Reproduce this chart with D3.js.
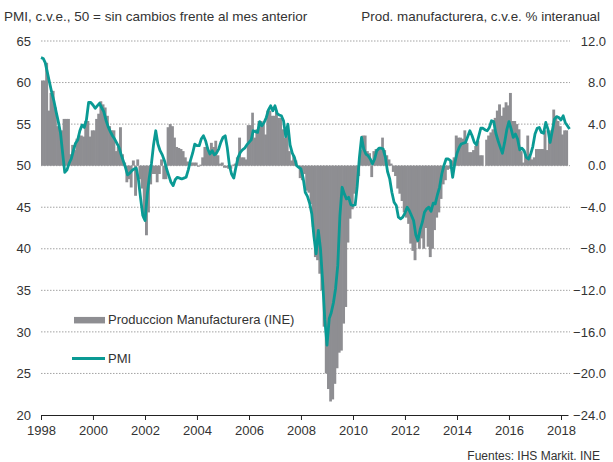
<!DOCTYPE html>
<html>
<head>
<meta charset="utf-8">
<script src="https://cdn.jsdelivr.net/npm/d3@7"></script>
<style>
  body { margin: 0; background: #fff; }
  text { font-family: "Liberation Sans", Arial, sans-serif; fill: #333; }
</style>
</head>
<body>
<div id="chart"></div>
<script>
// PMI manufacturero, mensual desde ene-1998
let pmi = [
  63.0, 62.9, 62.4, 61.2, 60.0, 58.8, 57.8, 56.5, 55.3, 54.0, 51.5, 49.2, // 1998
  49.5, 50.3, 50.8, 51.8, 52.7, 53.1, 54.2, 54.9, 54.6, 55.5, 57.6, 57.6, // 1999
  57.3, 56.9, 57.2, 57.5, 57.0, 56.5, 55.5, 54.7, 54.1, 53.6, 53.2, 52.7, // 2000
  52.2, 51.3, 50.6, 49.8, 48.9, 49.1, 49.4, 49.6, 49.7, 48.3, 46.0, 44.0, // 2001
  43.4, 46.5, 48.5, 50.2, 52.5, 54.2, 52.6, 51.8, 51.3, 50.6, 49.6, 48.8, // 2002
  48.0, 47.6, 48.3, 48.6, 48.5, 48.4, 48.5, 48.6, 49.5, 50.6, 51.5, 52.6, // 2003
  52.4, 52.4, 53.2, 53.6, 53.0, 52.0, 51.4, 51.8, 51.3, 51.5, 52.0, 52.8, // 2004
  53.4, 53.6, 52.2, 50.0, 49.0, 48.5, 49.8, 51.0, 51.6, 51.9, 52.1, 52.5, // 2005
  52.8, 53.1, 54.2, 54.1, 54.0, 55.3, 54.8, 55.2, 55.8, 56.7, 57.2, 56.6, // 2006
  57.2, 56.3, 56.1, 56.0, 55.4, 53.5, 55.0, 52.5, 51.5, 51.0, 50.0, 49.8, // 2007
  49.6, 48.5, 46.8, 46.3, 45.5, 44.2, 41.5, 39.4, 42.2, 40.0, 36.0, 31.5, // 2008
  28.4, 31.6, 32.3, 33.5, 35.2, 38.0, 44.0, 47.4, 46.6, 46.0, 46.2, 45.3, // 2009
  45.2, 45.3, 47.5, 51.0, 53.4, 52.0, 51.4, 51.2, 50.8, 50.2, 50.8, 51.8, // 2010
  52.1, 52.1, 52.0, 51.0, 49.3, 48.4, 46.8, 45.6, 45.2, 43.8, 43.6, 43.8, // 2011
  44.3, 45.0, 44.6, 44.0, 43.4, 41.7, 41.0, 42.3, 43.2, 44.4, 44.8, 45.0, // 2012
  44.5, 45.5, 45.4, 46.5, 47.4, 49.0, 50.0, 50.8, 50.8, 50.6, 48.6, 50.3, // 2013
  51.5, 52.2, 52.6, 52.7, 52.8, 53.5, 54.2, 53.6, 52.8, 52.5, 53.5, 54.5, // 2014
  54.5, 54.3, 54.2, 54.6, 55.4, 55.3, 53.9, 53.0, 52.2, 51.5, 52.8, 54.3, // 2015
  55.3, 54.4, 53.4, 53.8, 53.2, 51.9, 52.1, 51.8, 51.0, 50.8, 51.4, 52.3, // 2016
  53.8, 54.5, 54.6, 54.0, 53.9, 55.2, 54.4, 52.8, 54.2, 55.6, 55.9, 55.8, // 2017
  55.5, 56.0, 55.2, 54.8, 54.4                                            // 2018
];

// Produccion manufacturera (INE), % interanual
let prod = [
  8.2, 8.2, 9.9, 5.3, 7.0, 7.2, 5.6, 3.8, 3.4, 3.4, 4.5, 4.5,        // 1998
  4.5, 1.1, 2.0, 1.5, 2.6, 2.9, 2.9, 2.8, 4.3, 4.3, 2.8, 3.4,        // 1999
  3.4, 4.5, 5.0, 6.2, 5.9, 5.6, 4.8, 3.8, 3.4, 3.4, 1.4, 1.8,        // 2000
  3.7, 1.1, 0.3, -1.6, -1.3, -2.1, 0.5, -2.9, 0.6, -1.3, -2.2, -5.1, // 2001
  -6.7, -4.5, -1.8, -0.8, -0.8, -1.6, -0.8, 0.6, -1.3, -1.3, 3.7, 4.0, // 2002
  3.8, 2.7, 1.8, 1.7, 1.6, 1.4, 0.8, 0.4, 0.3, 0.3, 0.3, 0.3,        // 2003
  -0.1, 0.1, 0.8, 1.8, 1.8, 1.4, 2.2, 1.8, 2.4, 1.0, 0.2, 0.3,       // 2004
  -0.2, -0.2, -0.3, -0.3, 0.1, 0.2, 0.8, 2.7, 0.8, 0.8, 0.6, 3.9,    // 2005
  3.9, 5.1, 2.7, 3.5, 4.3, 4.3, 4.0, 3.0, 5.3, 5.3, 4.8, 4.8,        // 2006
  5.3, 4.6, 4.6, 3.5, 2.7, 3.3, 1.4, 0.5, 1.0, 0.5, 0.0, -1.2,       // 2007
  -1.4, -0.8, -2.4, -2.6, -3.7, -5.9, -8.8, -9.1, -10.4, -12.0, -15.5, -20.0, // 2008
  -21.5, -22.7, -22.5, -21.0, -19.5, -18.0, -17.8, -15.2, -13.6, -7.4, -5.1, -4.2, // 2009
  -2.7, -2.2, -1.0, 1.5, 2.9, 2.9, 1.4, 1.2, -1.1, 1.4, 1.6, 1.6,    // 2010
  1.8, 2.7, 1.5, 1.0, 0.6, 0.2, -0.6, -1.0, -2.2, -2.7, -3.4, -4.5,  // 2011
  -5.0, -5.6, -7.5, -8.2, -9.1, -7.4, -8.0, -7.0, -8.0, -6.0, -7.8, -8.8, // 2012
  -8.0, -6.2, -5.0, -4.5, -3.2, -1.8, -1.4, -0.4, -0.3, 0.5, 0.8, 2.9, // 2013
  2.7, 2.7, 2.6, 3.4, 2.2, 1.3, 1.3, 1.5, 1.9, 2.4, 1.0, 1.0,        // 2014
  0.0, 2.5, 2.9, 3.2, 3.5, 4.6, 5.3, 5.9, 4.8, 5.6, 6.1, 5.8,        // 2015
  7.0, 4.3, 4.3, 4.0, 3.5, 1.4, 0.3, 1.1, 2.9, 1.1, 0.6, 0.8,        // 2016
  1.6, 1.6, 1.6, 1.6, 3.4, 1.5, 3.4, 3.2, 5.4, 4.8, 4.3, 3.8,        // 2017
  3.0, 3.4, 3.4                                                      // 2018
];

let leftTicks = [20, 25, 30, 35, 40, 45, 50, 55, 60, 65];
let rightTicks = [-24, -20, -16, -12, -8, -4, 0, 4, 8, 12];
let yearTicks = [1998, 2000, 2002, 2004, 2006, 2008, 2010, 2012, 2014, 2016, 2018];

let titleLeft = "PMI, c.v.e., 50 = sin cambios frente al mes anterior";
let titleRight = "Prod. manufacturera, c.v.e. % interanual";
let source = "Fuentes: IHS Markit. INE";
let legendBars = "Produccion Manufacturera (INE)";
let legendLine = "PMI";

let W = 613, H = 462;
let plot = { left: 41, right: 570, top: 41, bottom: 415 };

let months = d3.timeMonth.range(new Date(1998, 0, 1), new Date(2018, 5, 1));

let svg = d3.select('#chart')
  .append('svg')
  .attr('width', W)
  .attr('height', H)
  .style('background-color', 'white');

// x: 26px per year, 1998 at left edge
let x = d3.scaleTime()
  .domain([new Date(1998, 0, 1), new Date(2018, 0, 1)])
  .range([plot.left, 561]);

let yL = d3.scaleLinear().domain([20, 65]).range([plot.bottom, plot.top]);
let yR = d3.scaleLinear().domain([-24, 12]).range([plot.bottom, plot.top]);

let barColor = '#8e8e92', lineColor = '#0a9a94';

// gridlines
svg.append('g')
  .selectAll('line')
  .data(leftTicks.filter(d => d > 20))
  .enter().append('line')
  .attr('x1', plot.left).attr('x2', plot.right)
  .attr('y1', d => yL(d)).attr('y2', d => yL(d))
  .attr('stroke', '#a3a3a3')
  .attr('stroke-width', 1)
  .attr('stroke-dasharray', '1.5,1.5');

// bars (slight overlap so they read as one solid area)
svg.append('g')
  .selectAll('rect')
  .data(prod)
  .enter().append('rect')
  .attr('x', (d, i) => x(months[i]))
  .attr('width', (d, i) => x(d3.timeMonth.offset(months[i], 1)) - x(months[i]) + 0.7)
  .attr('y', d => yR(Math.max(0, d)))
  .attr('height', d => Math.abs(yR(d) - yR(0)))
  .attr('fill', barColor);

// PMI line
let line = d3.line()
  .x((d, i) => x(months[i]))
  .y(d => yL(d));

svg.append('path')
  .datum(pmi)
  .attr('d', line)
  .attr('fill', 'none')
  .attr('stroke', lineColor)
  .attr('stroke-width', 2.8)
  .attr('stroke-linejoin', 'round');

// x axis (line runs a bit past 2018)
let xAxisScale = x.copy()
  .domain([new Date(1998, 0, 1), x.invert(568)])
  .range([plot.left, 568]);

let gx = svg.append('g')
  .attr('transform', 'translate(0,' + plot.bottom + ')')
  .call(d3.axisBottom(xAxisScale)
    .tickValues(yearTicks.map(yy => new Date(yy, 0, 1)))
    .tickFormat(d3.timeFormat('%Y'))
    .tickSize(5)
    .tickSizeOuter(0)
    .tickPadding(6));
gx.select('.domain').attr('stroke', '#222');
gx.selectAll('.tick line').attr('stroke', '#222');

// left axis
let gl = svg.append('g')
  .attr('transform', 'translate(' + plot.left + ',0)')
  .call(d3.axisLeft(yL).tickValues(leftTicks).tickSize(0).tickPadding(10));
gl.select('.domain').remove();

// right axis, labels right-aligned near the edge
let gr = svg.append('g')
  .attr('transform', 'translate(' + plot.right + ',0)')
  .call(d3.axisRight(yR).tickValues(rightTicks).tickFormat(d3.format('.1f')).tickSize(0));
gr.select('.domain').remove();
gr.selectAll('text').attr('text-anchor', 'end').attr('x', 36);

svg.selectAll('.tick text')
  .attr('font-family', null)
  .attr('font-size', null)
  .style('font-size', '13px')
  .style('fill', '#333');

// titles
svg.append('text').attr('x', 4).attr('y', 21)
  .style('font-size', '13.5px').text(titleLeft);
svg.append('text').attr('x', 600).attr('y', 21).attr('text-anchor', 'end')
  .style('font-size', '13.4px').text(titleRight);
svg.append('text').attr('x', 600).attr('y', 460).attr('text-anchor', 'end')
  .style('font-size', '12px').text(source);

// legend
let lg = svg.append('g');
lg.append('rect')
  .attr('x', 74).attr('y', yL(31.8)).attr('width', 31).attr('height', 6.5)
  .attr('fill', barColor);
lg.append('text').attr('x', 108).attr('y', yL(31.5) + 4.5)
  .style('font-size', '13px').text(legendBars);
lg.append('line')
  .attr('x1', 72).attr('x2', 105)
  .attr('y1', yL(26.8)).attr('y2', yL(26.8))
  .attr('stroke', lineColor).attr('stroke-width', 3);
lg.append('text').attr('x', 108).attr('y', yL(26.8) + 4.5)
  .style('font-size', '13px').text(legendLine);
</script>
</body>
</html>
